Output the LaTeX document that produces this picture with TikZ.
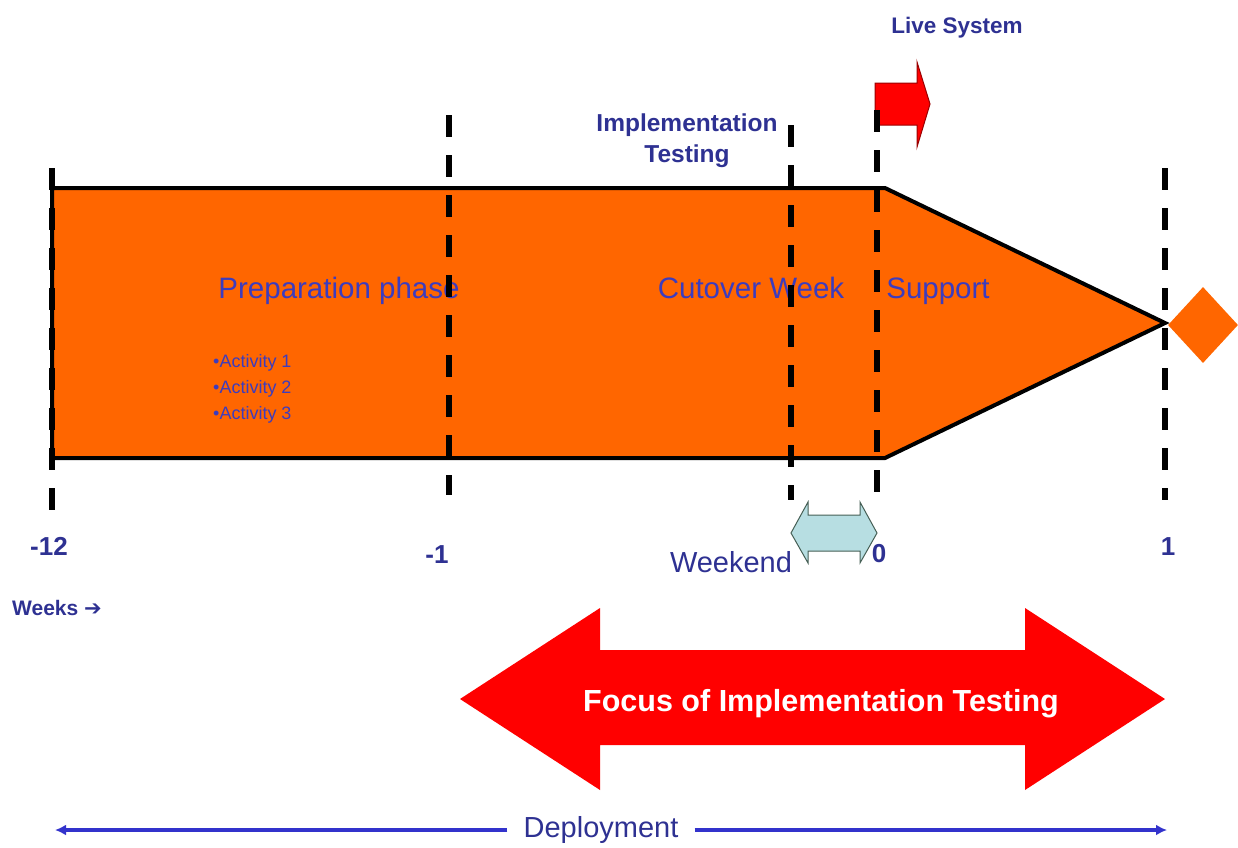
\documentclass[tikz,border=0pt]{standalone}
\usepackage{fontspec}
\setmainfont{Liberation Sans}
\newfontfamily\symfont{DejaVu Sans}
\usetikzlibrary{shapes.geometric,arrows.meta}
\definecolor{phaseorange}{RGB}{255,102,0}
\definecolor{labelblue}{RGB}{46,49,146}
\definecolor{phaseblue}{RGB}{60,60,190}
\definecolor{weekendcyan}{RGB}{183,222,226}
\definecolor{weekendline}{RGB}{70,95,85}
\definecolor{deployblue}{RGB}{51,51,204}
\begin{document}
\begin{tikzpicture}[x=1pt, y=-1pt,
	weekline/.style={line width=6pt, dash pattern=on 22pt off 18pt},
	phase/.style={anchor=base, inner sep=0pt, text=phaseblue, font=\fontsize{29.5}{35}\selectfont},
	activity/.style={anchor=base west, inner sep=0pt, text=phaseblue, font=\fontsize{18}{21}\selectfont},
	boldlabel/.style={inner sep=0pt, align=center, text=labelblue, font=\bfseries\fontsize{24.5}{31}\selectfont},
	weeknum/.style={anchor=base, inner sep=0pt, text=labelblue, font=\bfseries\fontsize{26}{30}\selectfont}]
		\useasboundingbox (0,0) rectangle (1238,847);

		% phase arrow and milestone
		\draw[line width=4pt, fill=phaseorange] (52,188) -- (885,188) -- (1165,323) -- (885,458) -- (52,458) -- cycle;
		\node at (1203,325) [diamond, fill=phaseorange, inner sep=0pt, minimum width=70pt, minimum height=76pt] (milestone) {};

		\node at (339,298) [phase] (prep) {Preparation phase};
		\node at (751,298) [phase] (cutover) {Cutover Week};
		\node at (938,298) [phase] (support) {Support};
		\foreach \n/\y in {1/367,2/393,3/419}
			\node at (213,\y) [activity] (act\n) {•Activity \n};

		\node at (687,141) [boldlabel] (impltest) {Implementation\\Testing};
		\node at (957,33) [boldlabel, anchor=base, font=\bfseries\fontsize{22.5}{27}\selectfont] (live) {Live System};
		\draw[fill=red, draw=red!60!black, line width=1pt] (875,83) -- (917,83) -- (917,62) -- (930,104) -- (917,147) -- (917,125) -- (875,125) -- cycle;

		% week markers
		\foreach \x/\ya/\yb in {52/168/510, 449/115/495, 791/125/500, 877/110/500, 1165/168/500}
			\draw[weekline] (\x,\ya) -- (\x,\yb);

		\node at (49,555) [weeknum] (wm12) {-12};
		\node at (437,563) [weeknum] (wm1) {-1};
		\node at (879,562) [weeknum] (w0) {0};
		\node at (1168,555) [weeknum] (w1) {1};

		% weekend
		\draw[fill=weekendcyan, draw=weekendline, line width=1pt] (791,533) -- (808,502) -- (808,515) -- (860,515) -- (860,502) -- (877,533) -- (860,563) -- (860,551) -- (808,551) -- (808,563) -- cycle;
		\node at (731,572) [anchor=base, inner sep=0pt, text=labelblue, font=\fontsize{29}{34}\selectfont] (weekend) {Weekend};

		\node at (12,615) [anchor=base west, inner sep=0pt, text=labelblue, font=\bfseries\fontsize{21}{25}\selectfont] (weeks) {Weeks {\symfont ➔}};

		% focus arrow
		\fill[red] (460,699) -- (600,608) -- (600,650) -- (1025,650) -- (1025,608) -- (1165,699) -- (1025,790) -- (1025,745) -- (600,745) -- (600,790) -- cycle;
		\node at (821,711) [anchor=base, inner sep=0pt, text=white, font=\bfseries\fontsize{30.5}{36}\selectfont] (focus) {Focus of Implementation Testing};

		% deployment
		\coordinate (depL) at (55,830);
		\coordinate (depR) at (1167,830);
		\node at (601,830) [inner xsep=16pt, inner ysep=0pt, text=labelblue, font=\fontsize{29}{34}\selectfont] (deploy) {Deployment};
		\draw[deployblue, line width=4pt, -{Latex[length=11pt,width=11pt]}] (deploy.west) -- (depL);
		\draw[deployblue, line width=4pt, -{Latex[length=11pt,width=11pt]}] (deploy.east) -- (depR);
\end{tikzpicture}
\end{document}
